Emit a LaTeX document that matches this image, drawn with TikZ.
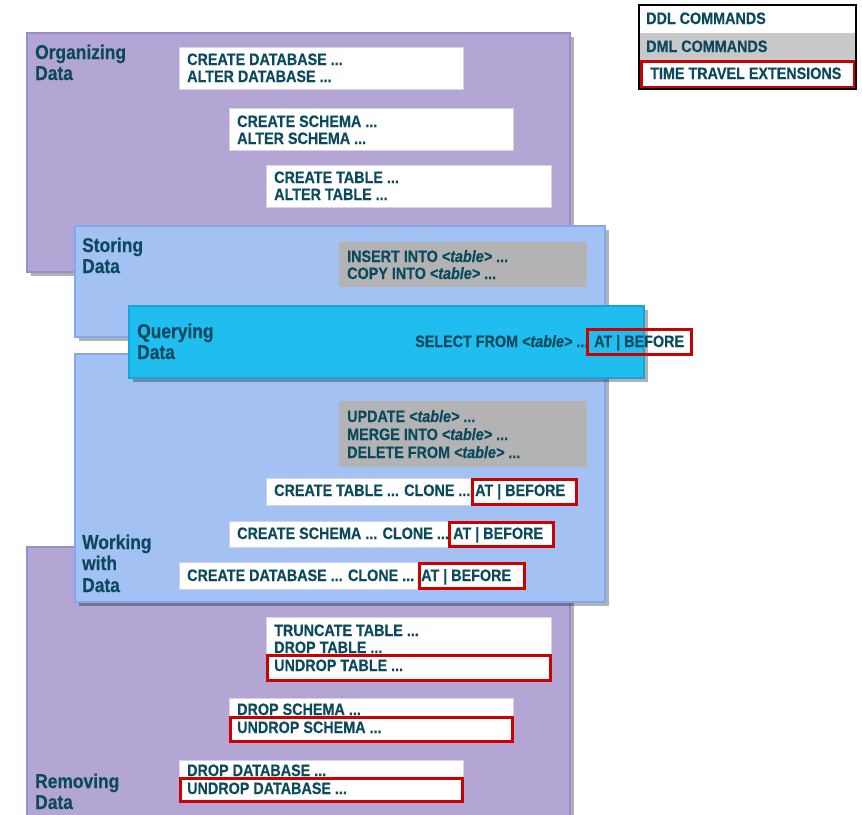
\documentclass[tikz,border=0pt]{standalone}
\usepackage{fontspec}
\setmainfont{Liberation Sans}[FakeStretch=0.87,
  BoldFeatures={FakeBold=0.4}, BoldItalicFeatures={FakeBold=0.4}]
\usetikzlibrary{fit,shadows}

\definecolor{txtcol}{HTML}{0B4A5E}
\definecolor{purpfill}{HTML}{B3A6D5}
\definecolor{purpline}{HTML}{9C8CCC}
\definecolor{bluefill}{HTML}{A3C1F3}
\definecolor{blueline}{HTML}{7FA8EE}
\definecolor{cyanfill}{HTML}{1FBEEF}
\definecolor{cyanline}{HTML}{14A6DB}
\definecolor{dmlgray}{HTML}{B3B3B3}
\definecolor{leggray}{HTML}{C8C8C8}
\definecolor{ttred}{HTML}{CC0000}

\tikzset{
  areabox/.style={inner sep=0pt, line width=1.2pt,
    drop shadow={shadow xshift=4pt, shadow yshift=-4pt, fill=black, opacity=0.3}},
  organize/.style={areabox, fill=purpfill, draw=purpline},
  storeq/.style={areabox, fill=bluefill, draw=blueline},
  querybox/.style={areabox, fill=cyanfill, draw=cyanline},
  ddlbox/.style={inner sep=0pt, fill=white, draw=purpline!40, line width=0.6pt},
  dmlbox/.style={inner sep=0pt, fill=dmlgray},
  ttbox/.style={inner sep=0pt, draw=ttred, line width=3pt},
  cmd/.style={anchor=base west, inner sep=0pt, text=txtcol,
    font=\bfseries\fontsize{16.5}{17.5}\selectfont},
  area/.style={anchor=base west, inner sep=0pt, text=txtcol,
    font=\bfseries\fontsize{20}{22}\selectfont},
}
\newcommand{\tbl}{\textit{<table>}}

\begin{document}
\begin{tikzpicture}[x=1pt, y=-1pt]
\useasboundingbox (0,0) rectangle (862,814);

% ---------- Organizing Data ----------
\node[organize, fit={(27,33)(570,272)}] (org) {};
\node[area] (orgA) at (35,59) {Organizing};
\node[area] (orgB) at (35,80) {Data};
\node[ddlbox, fit={(179,47)(463,89)}] (cdb) {};
\node[cmd] (cdbA) at (187,65) {CREATE DATABASE ...};
\node[cmd] (cdbB) at (187,82) {ALTER DATABASE ...};
\node[ddlbox, fit={(229,108)(513,150)}] (csc) {};
\node[cmd] (cscA) at (237,127) {CREATE SCHEMA ...};
\node[cmd] (cscB) at (237,144) {ALTER SCHEMA ...};
\node[ddlbox, fit={(266,165)(551,207)}] (ctb) {};
\node[cmd] (ctbA) at (274,183) {CREATE TABLE ...};
\node[cmd] (ctbB) at (274,200) {ALTER TABLE ...};

% ---------- Removing Data ----------
\node[organize, fit={(27,547)(570,830)}] (rem) {};
\node[area] (remA) at (35,788) {Removing};
\node[area] (remB) at (35,809) {Data};
\node[ddlbox, fit={(266,617)(551,681)}] (dtb) {};
\node[cmd] (dtbA) at (274,636) {TRUNCATE TABLE ...};
\node[cmd] (dtbB) at (274,653) {DROP TABLE ...};
\node[cmd] (dtbC) at (274,671) {UNDROP TABLE ...};
\node[ttbox, fit={(267,655)(550,680)}] (utb) {};
\node[ddlbox, fit={(229,698)(513,742)}] (dsc) {};
\node[cmd] (dscA) at (237,715) {DROP SCHEMA ...};
\node[cmd] (dscB) at (237,733) {UNDROP SCHEMA ...};
\node[ttbox, fit={(230,717)(512,741)}] (usc) {};
\node[ddlbox, fit={(179,760)(463,802)}] (ddb) {};
\node[cmd] (ddbA) at (187,776) {DROP DATABASE ...};
\node[cmd] (ddbB) at (187,794) {UNDROP DATABASE ...};
\node[ttbox, fit={(180,778)(462,801)}] (udb) {};

% ---------- Storing Data ----------
\node[storeq, fit={(75,226)(605,337)}] (sto) {};
\node[area] (stoA) at (82,252) {Storing};
\node[area] (stoB) at (82,273) {Data};
\node[dmlbox, fit={(339,242)(587,287)}] (ins) {};
\node[cmd] (insA) at (347,262) {INSERT INTO \tbl\ ...};
\node[cmd] (insB) at (347,279) {COPY INTO \tbl\ ...};

% ---------- Working with Data ----------
\node[storeq, fit={(75,354)(605,602)}] (wrk) {};
\node[area] (wrkA) at (82,549) {Working};
\node[area] (wrkB) at (82,570) {with};
\node[area] (wrkC) at (82,592) {Data};
\node[dmlbox, fit={(339,401)(587,467)}] (upd) {};
\node[cmd] (updA) at (347,422) {UPDATE \tbl\ ...};
\node[cmd] (updB) at (347,440) {MERGE INTO \tbl\ ...};
\node[cmd] (updC) at (347,458) {DELETE FROM \tbl\ ...};

\node[ddlbox, fit={(266,478)(577,505)}] (clt) {};
\node[cmd] (cltA) at (274,496) {CREATE TABLE ... CLONE ...};
\node[ttbox, fit={(472,479)(576,504)}] (cltT) {};
\node[cmd] (cltB) at (475,496) {AT | BEFORE};

\node[ddlbox, fit={(229,521)(554,547)}] (cls) {};
\node[cmd] (clsA) at (237,539) {CREATE SCHEMA ... CLONE ...};
\node[ttbox, fit={(449,522)(553,546)}] (clsT) {};
\node[cmd] (clsB) at (453,539) {AT | BEFORE};

\node[ddlbox, fit={(179,562)(525,589)}] (cld) {};
\node[cmd] (cldA) at (187,581) {CREATE DATABASE ... CLONE ...};
\node[ttbox, fit={(419,563)(524,588)}] (cldT) {};
\node[cmd] (cldB) at (421,581) {AT | BEFORE};

% ---------- Querying Data ----------
\node[querybox, fit={(129,306)(644,378)}] (qry) {};
\node[area] (qryA) at (137,338) {Querying};
\node[area] (qryB) at (137,359) {Data};
\node[cmd] (selA) at (415,347) {SELECT FROM \tbl\ ...};
\node[ttbox, fit={(587,329)(691,354)}] (selT) {};
\node[cmd] (selB) at (594,347) {AT | BEFORE};

% ---------- Legend ----------
\node[inner sep=0pt, fill=white, fit={(639,5)(856,89)}] (leg) {};
\node[inner sep=0pt, fill=leggray, fit={(640,33)(855,60)}] (legDML) {};
\node[ttbox, fill=white, fit={(641,61)(854,87)}] (legTT) {};
\node[inner sep=0pt, draw=black, line width=1.2pt, fit={(639,5)(856,89)}] (legFrame) {};
\node[cmd] (legA) at (646,24) {DDL COMMANDS};
\node[cmd] (legB) at (646,52) {DML COMMANDS};
\node[cmd] (legC) at (650,79) {TIME TRAVEL EXTENSIONS};
\end{tikzpicture}
\end{document}
